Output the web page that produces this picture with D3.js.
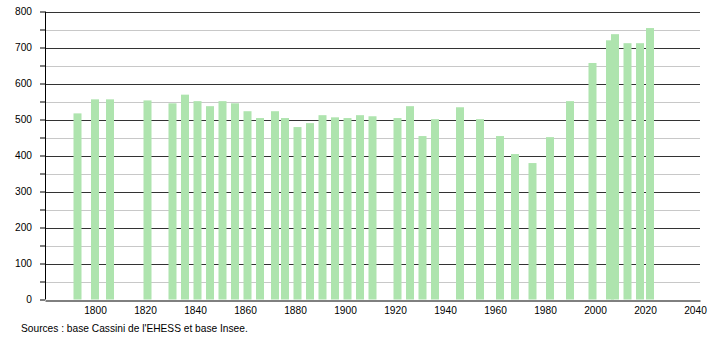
<!DOCTYPE html>
<html>
<head>
<meta charset="utf-8">
<script src="https://cdn.jsdelivr.net/npm/d3@7"></script>
<style>
  body { margin: 0; background: #fff; }
  svg { display: block; font-family: "Liberation Sans", Arial, sans-serif; }
</style>
</head>
<body>
<svg></svg>
<script>
const years = [1793, 1800, 1806, 1821, 1831, 1836, 1841, 1846, 1851, 1856, 1861, 1866, 1872, 1876,
  1881, 1886, 1891, 1896, 1901, 1906, 1911, 1921, 1926, 1931, 1936, 1946, 1954, 1962, 1968,
  1975, 1982, 1990, 1999, 2006, 2008, 2013, 2018, 2022];
const population = [517, 556, 556, 553, 545, 569, 551, 537, 551, 545, 523, 504, 523, 504,
  479, 490, 512, 506, 504, 512, 509, 504, 537, 454, 501, 534, 501, 454, 404,
  379, 451, 551, 657, 720, 737, 712, 712, 754];
const xTicks = [1800, 1820, 1840, 1860, 1880, 1900, 1920, 1940, 1960, 1980, 2000, 2020, 2040];
const yMajor = [0, 100, 200, 300, 400, 500, 600, 700, 800];
const yMinor = [50, 150, 250, 350, 450, 550, 650, 750];
const sourceText = "Sources : base Cassini de l'EHESS et base Insee.";

const WIDTH = 710;
const HEIGHT = 340;
const BAR_W = 8;
const FONT = 10.2;

const svg = d3.select('svg').
attr('width', WIDTH).
attr('height', HEIGHT);

const x = d3.scaleLinear().domain([1780, 2042]).range([45, 700]);
const y = d3.scaleLinear().domain([0, 800]).range([299.5, 11.5]);

// grid
svg.append('g').selectAll('line').
data(yMinor).
join('line').
attr('x1', x.range()[0]).
attr('x2', x.range()[1]).
attr('y1', d => Math.round(y(d)) + 0.5).
attr('y2', d => Math.round(y(d)) + 0.5).
attr('stroke', '#c8c8c8');

svg.append('g').selectAll('line').
data(yMajor.slice(1)).
join('line').
attr('x1', x.range()[0]).
attr('x2', x.range()[1]).
attr('y1', d => Math.round(y(d)) + 0.5).
attr('y2', d => Math.round(y(d)) + 0.5).
attr('stroke', '#333');

// bars
svg.append('g').selectAll('rect').
data(years).
join('rect').
attr('x', d => x(d) - BAR_W / 2).
attr('width', BAR_W).
attr('y', (d, i) => y(population[i])).
attr('height', (d, i) => y(0) - y(population[i])).
attr('fill', '#aee4ae');

// y axis
const yAxis = d3.axisLeft(y).
tickValues(yMajor.concat(yMinor)).
tickSize(5).
tickFormat(d => d % 100 === 0 ? d : '').
tickPadding(8);

const yG = svg.append('g').
attr('transform', `translate(${x.range()[0]},0)`).
call(yAxis);
yG.select('.domain').attr('stroke', '#000').attr('d', `M0.5,${y(800)}V${y(0)}`);
yG.selectAll('.tick line').attr('stroke', '#000');
yG.selectAll('.tick text').attr('font-size', FONT).attr('fill', '#000');

// x axis
const xAxis = d3.axisBottom(x).
tickValues(xTicks).
tickSize(0).
tickFormat(d3.format('d')).
tickPadding(6);

const xG = svg.append('g').
attr('transform', `translate(0,${Math.round(y(0)) + 0.5})`).
call(xAxis);
xG.select('.domain').attr('stroke', '#000');
xG.selectAll('.tick text').attr('font-size', FONT).attr('fill', '#000');

svg.append('text').
attr('x', 21).
attr('y', 332).
attr('font-size', FONT).
attr('fill', '#000').
text(sourceText);
</script>
</body>
</html>
